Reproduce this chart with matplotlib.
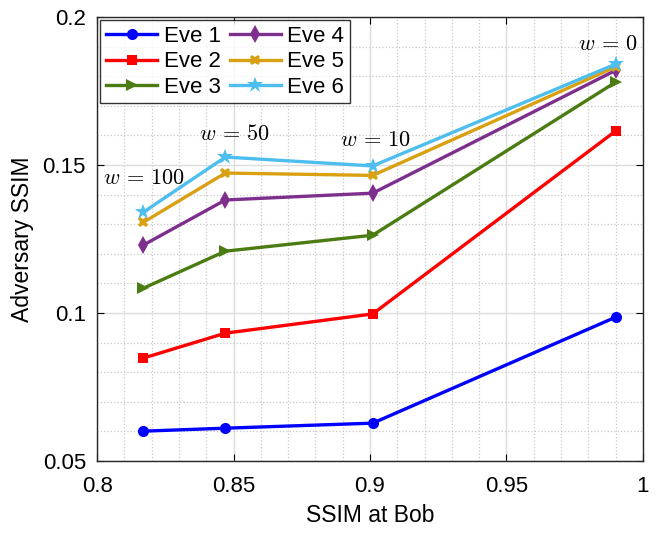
import matplotlib.pyplot as plt
import numpy as np
from matplotlib.ticker import MultipleLocator

plt.rcParams["font.family"] = ["Liberation Sans", "DejaVu Sans"]
plt.rcParams["mathtext.fontset"] = "cm"

# SSIM at Bob for the four weightings w = 100, 50, 10, 0
ssim_bob = [0.817, 0.847, 0.901, 0.990]

eve_ssim = {
    "Eve 1": [0.0601, 0.0611, 0.0628, 0.0986],
    "Eve 2": [0.0848, 0.0932, 0.0997, 0.1615],
    "Eve 3": [0.1084, 0.1209, 0.1263, 0.1780],
    "Eve 4": [0.1230, 0.1382, 0.1405, 0.1820],
    "Eve 5": [0.1307, 0.1473, 0.1465, 0.1832],
    "Eve 6": [0.1341, 0.1527, 0.1497, 0.1841],
}
colors = ["#0000ff", "#ff0000", "#4a7c12", "#7e2f8e", "#d9a012", "#4dbeee"]
markers = ["o", "s", ">", "d", "X", "*"]
msizes = [8, 7.5, 9, 9, 7.5, 12]

x_ticks = [0.8, 0.85, 0.9, 0.95, 1.0]
x_ticklabels = ["0.8", "0.85", "0.9", "0.95", "1"]
y_ticks = [0.05, 0.1, 0.15, 0.2]
y_ticklabels = ["0.05", "0.1", "0.15", "0.2"]

w_labels = [r"$w\,=\,100$", r"$w\,=\,50$", r"$w\,=\,10$", r"$w\,=\,0$"]
w_label_pos = [(0.817, 0.1418), (0.8505, 0.1568), (0.902, 0.1548), (0.987, 0.1872)]

fig = plt.figure(figsize=(6.56, 5.33), dpi=100)
ax = fig.add_axes([0.148, 0.135, 0.832, 0.833])

for (name, vals), c, m, ms in zip(eve_ssim.items(), colors, markers, msizes):
    ax.plot(ssim_bob, vals, color=c, marker=m, markersize=ms, linewidth=2.4,
            label=name, markeredgewidth=0)

for txt, (x, y) in zip(w_labels, w_label_pos):
    ax.text(x, y, txt, fontsize=16, ha="center", va="bottom")

ax.set_xlim(0.8, 1.0)
ax.set_ylim(0.05, 0.2)
ax.set_xticks(x_ticks)
ax.set_xticklabels(x_ticklabels)
ax.set_yticks(y_ticks)
ax.set_yticklabels(y_ticklabels)
ax.xaxis.set_minor_locator(MultipleLocator(0.01))
ax.yaxis.set_minor_locator(MultipleLocator(0.01))
ax.grid(which="major", color="#dcdcdc", linewidth=1.0)
ax.grid(which="minor", color="#c8c8c8", linestyle=":", linewidth=0.9)
ax.set_axisbelow(True)
ax.tick_params(which="major", direction="in", top=True, right=True, length=5,
               labelsize=16)
ax.tick_params(axis="x", pad=11)
ax.tick_params(axis="y", pad=8)
ax.tick_params(which="minor", length=0)
for s in ax.spines.values():
    s.set_linewidth(1.0)
    s.set_color("#262626")

ax.set_xlabel("SSIM at Bob", fontsize=16.5, labelpad=5)
ax.set_ylabel("Adversary SSIM", fontsize=16.5, labelpad=6)

leg = ax.legend(ncol=2, loc="upper left", fontsize=16, frameon=True, fancybox=False,
                edgecolor="black", borderaxespad=0.15, handlelength=2.3,
                columnspacing=0.4, handletextpad=0.3, labelspacing=0.2,
                borderpad=0.25)
leg.get_frame().set_linewidth(1.0)

fig.savefig("out.png", dpi=100)
